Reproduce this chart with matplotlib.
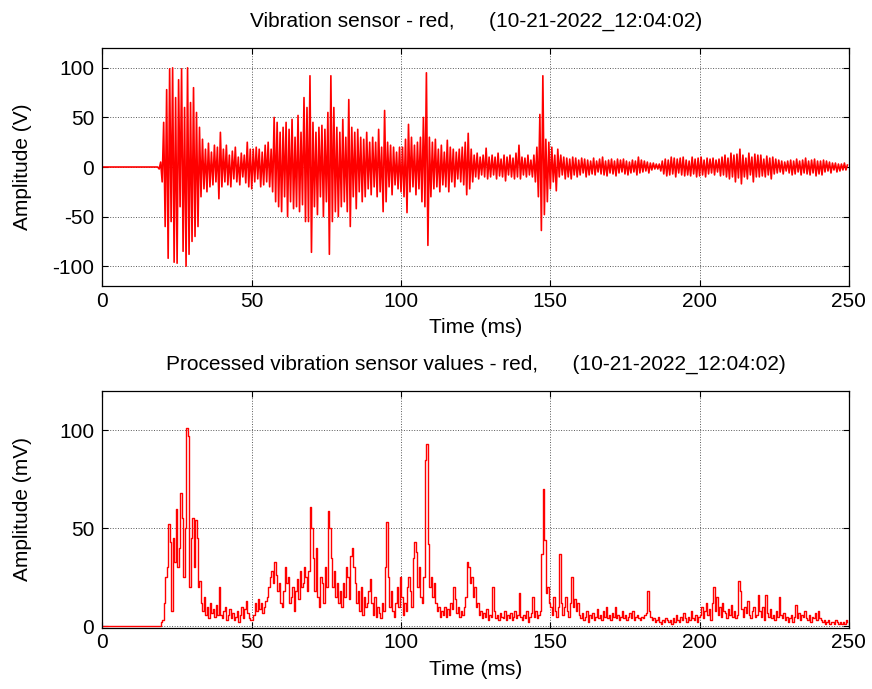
#!/usr/bin/env python3
"""
Ridisegna i due grafici del sensore di vibrazione (segnale grezzo e processato).

Output prodotto:
  out.png

Uso:
  python plot.py
"""

from __future__ import annotations

import matplotlib

matplotlib.use("Agg")
import matplotlib.pyplot as plt
import numpy as np


# Passo di campionamento dei valori (ms).
SAMPLE_STEP_MS = 0.5

TITLE_RAW = "Vibration sensor - red,      (10-21-2022_12:04:02)"
TITLE_PROCESSED = "Processed vibration sensor values - red,      (10-21-2022_12:04:02)"

X_TICKS = [0, 50, 100, 150, 200, 250]
RAW_Y_TICKS = [-100, -50, 0, 50, 100]
PROCESSED_Y_TICKS = [0, 50, 100]

# Segnale grezzo (V), un campione ogni 0.5 ms, una riga ogni 10 ms.
raw_volts = [
    0, 0, 0, 0, 0, 0, 0, 0, 0, 0, 0, 0, 0, 0, 0, 0, 0, 0, 0, 0,
    0, 0, 0, 0, 0, 0, 0, 0, 0, 0, 0, 0, 0, 0, 0, 0, 0, 0, -2, 5,
    -15, 45, -60, 78, -92, 99, -55, 100, -96, 70, -97, 88, -40, 99, -85, 60, -100, 100, -88, 65,
    -75, 80, -70, 55, -60, 40, -30, 28, -22, 18, -25, 24, -20, 15, -18, 22, -15, 20, -32, 35,
    -20, 18, -15, 22, -18, 12, -20, 16, -12, 20, -15, 10, -18, 14, -10, 12, -16, 25, -20, 18,
    -22, 18, -15, 20, -12, 18, -20, 15, -18, 22, -15, 25, -20, 18, -25, 50, -35, 45, -40, 35,
    -45, 40, -30, 45, -50, 38, -35, 48, -42, 30, -40, 52, -45, 35, -38, 70, -55, 60, -55, 92,
    -86, 45, -40, 35, -48, 40, -30, 42, -50, 38, -35, 55, -88, 92, -55, 60, -45, 40, -50, 35,
    -40, 48, -35, 30, -45, 68, -60, 40, -30, 35, -42, 38, -25, 30, -35, 28, -30, 35, -22, 25,
    -28, 30, -20, 25, -30, 38, -25, 20, -45, 57, -35, 25, -20, 22, -28, 20, -18, 15, -22, 20,
    -25, 20, -30, 28, -46, 43, -25, 30, -20, 22, -28, 25, -22, 30, -35, 50, -40, 95, -79, 30,
    -30, 25, -22, 28, -20, 18, -25, 22, -18, 15, -20, 27, -25, 20, -15, 18, -20, 15, -12, 18,
    -15, 20, -18, 25, -28, 34, -22, 18, -15, 12, -10, 14, -12, 10, -8, 12, -10, 19, -12, 10,
    -10, 12, -8, 10, -12, 14, -9, 8, -10, 12, -14, 10, -8, 12, -10, 9, -12, 14, -10, 22,
    -12, 10, -8, 9, -10, 12, -8, 7, -10, 12, -15, 20, -30, 53, -64, 92, -48, 28, -35, 25,
    -22, 20, -15, 12, -24, 18, -10, 12, -8, 10, -12, 9, -10, 8, -12, 10, -8, 9, -10, 7,
    -8, 9, -6, 8, -10, 7, -8, 6, -7, 9, -8, 6, -5, 8, -7, 10, -8, 6, -9, 7,
    -6, 8, -7, 6, -9, 8, -6, 7, -5, 8, -7, 6, -8, 5, -6, 7, -5, 6, -8, 10,
    -6, 7, -5, 6, -4, 5, -6, 4, -3, 4, -2, 3, -2, 3, -4, 6, -7, 8, -9, 7,
    -8, 10, -7, 9, -10, 8, -6, 9, -8, 10, -9, 7, -8, 6, -9, 10, -7, 8, -10, 9,
    -9, 10, -8, 7, -10, 9, -7, 8, -6, 9, -8, 7, -5, 8, -9, 10, -8, 12, -10, 9,
    -12, 14, -10, 12, -15, 13, -11, 18, -17, 12, -10, 9, -12, 14, -8, 10, -15, 13, -10, 12,
    -10, 12, -9, 8, -10, 11, -8, 9, -12, 10, -7, 8, -6, 7, -5, 6, -7, 5, -4, 6,
    -6, 7, -8, 6, -7, 8, -5, 6, -8, 7, -6, 9, -7, 6, -8, 7, -6, 8, -9, 6,
    -7, 6, -8, 7, -5, 6, -4, 5, -6, 4, -3, 4, -5, 3, -4, 3, -3, 4, -3, 2,
]

# Segnale processato (mV), stesso passo di campionamento.
processed_mv = [
    0, 0, 0, 0, 0, 0, 0, 0, 0, 0, 0, 0, 0, 0, 0, 0, 0, 0, 0, 0,
    0, 0, 0, 0, 0, 0, 0, 0, 0, 0, 0, 0, 0, 0, 0, 0, 0, 0, 0, 2,
    3, 12, 25, 30, 52, 43, 8, 45, 33, 60, 30, 40, 68, 55, 25, 50, 101, 97, 20, 45,
    55, 30, 54, 45, 20, 23, 12, 8, 15, 6, 10, 4, 12, 7, 9, 5, 11, 6, 20, 6,
    4, 8, 10, 3, 6, 9, 4, 7, 3, 5, 8, 2, 6, 10, 4, 9, 13, 7, 4, 3,
    3, 6, 12, 8, 14, 9, 12, 7, 10, 13, 15, 20, 25, 28, 22, 33, 26, 18, 22, 12,
    10, 18, 30, 22, 25, 12, 15, 20, 8, 18, 24, 14, 28, 20, 22, 30, 25, 18, 28, 61,
    50, 35, 18, 40, 15, 10, 25, 22, 12, 30, 20, 59, 50, 35, 20, 28, 15, 22, 12, 18,
    10, 22, 15, 30, 25, 14, 36, 40, 30, 22, 12, 18, 8, 20, 6, 15, 10, 12, 18, 24,
    12, 6, 15, 5, 10, 7, 4, 12, 8, 30, 53, 25, 10, 18, 8, 5, 12, 20, 10, 25,
    15, 6, 12, 8, 20, 25, 18, 10, 35, 43, 38, 20, 30, 15, 12, 25, 85, 93, 42, 20,
    25, 15, 22, 12, 8, 10, 5, 8, 6, 10, 5, 9, 6, 12, 9, 20, 14, 7, 10, 5,
    8, 6, 10, 15, 33, 30, 22, 25, 15, 20, 10, 12, 6, 8, 4, 7, 5, 9, 3, 6,
    5, 20, 8, 4, 6, 3, 7, 5, 4, 8, 3, 6, 4, 7, 3, 5, 8, 4, 6, 17,
    5, 3, 6, 4, 8, 2, 5, 7, 15, 5, 8, 4, 6, 8, 37, 70, 44, 17, 20, 12,
    10, 6, 15, 8, 5, 10, 37, 12, 6, 10, 15, 8, 5, 12, 25, 10, 14, 8, 12, 6,
    4, 7, 3, 5, 8, 2, 6, 4, 7, 3, 5, 9, 4, 6, 3, 8, 5, 10, 4, 6,
    3, 7, 5, 10, 4, 6, 3, 5, 8, 4, 6, 3, 5, 7, 4, 8, 3, 5, 6, 4,
    3, 5, 4, 6, 7, 18, 8, 5, 3, 4, 2, 3, 5, 2, 1, 3, 2, 4, 3, 2,
    3, 1, 4, 2, 6, 3, 2, 5, 3, 7, 4, 2, 5, 3, 8, 4, 3, 6, 2, 5,
    6, 10, 4, 8, 12, 6, 9, 3, 12, 20, 8, 15, 6, 10, 5, 12, 8, 7, 4, 9,
    6, 11, 5, 8, 4, 6, 23, 18, 9, 5, 10, 7, 13, 6, 4, 8, 10, 5, 6, 16,
    8, 5, 10, 3, 16, 7, 5, 9, 4, 6, 3, 8, 5, 15, 6, 4, 7, 3, 5, 2,
    4, 6, 2, 5, 11, 4, 7, 3, 6, 5, 8, 4, 3, 6, 2, 5, 4, 7, 3, 8,
    4, 3, 2, 3, 1, 2, 3, 1, 2, 2, 1, 3, 2, 1, 2, 1, 2, 1, 3, 2,
]

FONT_SIZE = 15


def style_axes(ax: plt.Axes, y_ticks: list[int]) -> None:
    # Stile tipo MATLAB: box chiuso, tacche interne, griglia a puntini.
    ax.set_xlim(0, 250)
    ax.set_xticks(X_TICKS)
    ax.set_yticks(y_ticks)
    ax.tick_params(
        direction="in", top=True, right=True, length=4, width=0.8,
        labelsize=FONT_SIZE,
    )
    ax.tick_params(axis="x", pad=4)
    ax.tick_params(axis="y", pad=6)
    ax.grid(True, linestyle=":", color="0.35", linewidth=0.7)
    for spine in ax.spines.values():
        spine.set_linewidth(0.9)
    ax.set_xlabel("Time (ms)", fontsize=FONT_SIZE)
    ax.xaxis.set_label_coords(0.5, -0.135)
    ax.yaxis.set_label_coords(-0.094, 0.5)


def main() -> int:
    plt.rcParams["font.family"] = ["Liberation Sans", "DejaVu Sans"]
    # MATLAB usa il trattino semplice per i numeri negativi.
    plt.rcParams["axes.unicode_minus"] = False

    raw = np.asarray(raw_volts, dtype=float)
    processed = np.asarray(processed_mv, dtype=float)
    t_raw = np.arange(len(raw)) * SAMPLE_STEP_MS
    t_proc = np.arange(len(processed)) * SAMPLE_STEP_MS

    fig = plt.figure(figsize=(8.72, 6.89), dpi=100)
    ax_raw = fig.add_axes([0.1175, 0.5849, 0.856, 0.3454])
    ax_proc = fig.add_axes([0.1175, 0.0890, 0.856, 0.3435])

    ax_raw.plot(t_raw, raw, color="red", linewidth=1.2)
    ax_raw.set_ylim(-120, 120)
    style_axes(ax_raw, RAW_Y_TICKS)
    ax_raw.set_ylabel("Amplitude (V)", fontsize=FONT_SIZE)
    ax_raw.set_title(TITLE_RAW, fontsize=FONT_SIZE, pad=15)

    ax_proc.plot(t_proc, processed, color="red", linewidth=1.0,
                 drawstyle="steps-post")
    ax_proc.set_ylim(-0.7, 120)
    style_axes(ax_proc, PROCESSED_Y_TICKS)
    ax_proc.set_ylabel("Amplitude (mV)", fontsize=FONT_SIZE)
    ax_proc.set_title(TITLE_PROCESSED, fontsize=FONT_SIZE, pad=15)

    fig.savefig("out.png", dpi=100)
    plt.close(fig)
    return 0


if __name__ == "__main__":
    raise SystemExit(main())
